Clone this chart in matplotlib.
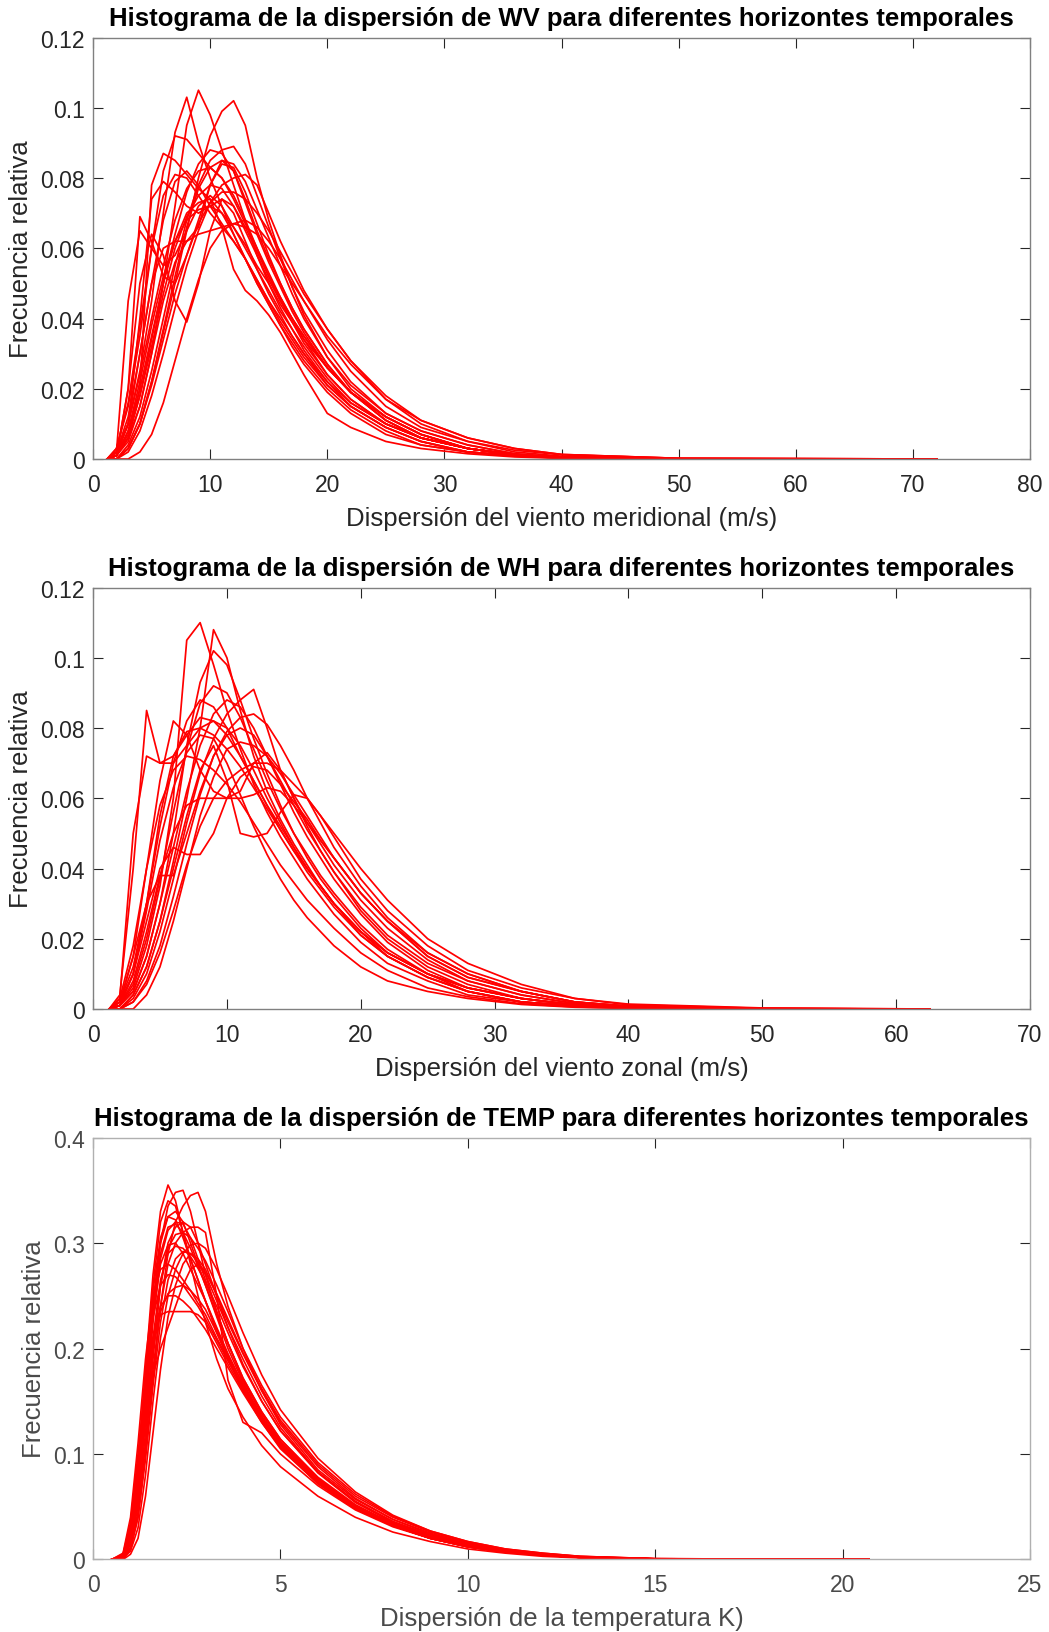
#!/usr/bin/env python

import numpy as np
import matplotlib
matplotlib.use("Agg")
import matplotlib.pyplot as plt
from matplotlib.ticker import FuncFormatter

plt.rcParams['font.family'] = ['Liberation Sans', 'DejaVu Sans']

# ---------------- WV (viento meridional) ----------------
wv_x = [1.2, 2, 3, 4, 5, 6, 7, 8, 9, 10, 11, 12, 13, 14, 15, 16, 17, 18,
        20, 22, 25, 28, 32, 36, 40, 50, 72]
wv_curves = [
    [0, 0.001, 0.006, 0.015, 0.030, 0.050, 0.072, 0.095, 0.105, 0.098, 0.088, 0.078, 0.068, 0.058, 0.050, 0.043, 0.037, 0.031, 0.022, 0.015, 0.009, 0.005, 0.002, 0.001, 0.0004, 0, 0],
    [0, 0.002, 0.010, 0.025, 0.045, 0.070, 0.093, 0.103, 0.090, 0.080, 0.072, 0.064, 0.057, 0.050, 0.044, 0.038, 0.033, 0.028, 0.020, 0.014, 0.008, 0.004, 0.002, 0.001, 0.0003, 0, 0],
    [0, 0, 0.003, 0.010, 0.022, 0.036, 0.050, 0.065, 0.080, 0.092, 0.099, 0.102, 0.095, 0.080, 0.068, 0.058, 0.049, 0.041, 0.029, 0.020, 0.012, 0.007, 0.003, 0.0012, 0.0005, 0, 0],
    [0, 0.003, 0.015, 0.035, 0.060, 0.082, 0.092, 0.091, 0.087, 0.083, 0.080, 0.074, 0.067, 0.060, 0.053, 0.046, 0.040, 0.034, 0.024, 0.017, 0.010, 0.006, 0.003, 0.0012, 0.0004, 0, 0],
    [0, 0.001, 0.006, 0.020, 0.078, 0.087, 0.085, 0.081, 0.077, 0.074, 0.070, 0.064, 0.057, 0.050, 0.044, 0.038, 0.032, 0.027, 0.019, 0.013, 0.007, 0.004, 0.002, 0.0008, 0.0003, 0, 0],
    [0, 0.002, 0.010, 0.040, 0.074, 0.079, 0.076, 0.072, 0.070, 0.072, 0.074, 0.070, 0.062, 0.054, 0.047, 0.041, 0.035, 0.030, 0.021, 0.015, 0.009, 0.005, 0.002, 0.001, 0.0003, 0, 0],
    [0, 0.002, 0.045, 0.065, 0.060, 0.055, 0.058, 0.065, 0.072, 0.075, 0.072, 0.066, 0.060, 0.054, 0.048, 0.042, 0.037, 0.032, 0.023, 0.016, 0.010, 0.006, 0.003, 0.0012, 0.0004, 0, 0],
    [0, 0.001, 0.020, 0.069, 0.062, 0.052, 0.050, 0.058, 0.068, 0.078, 0.084, 0.083, 0.076, 0.067, 0.058, 0.050, 0.043, 0.037, 0.027, 0.019, 0.011, 0.006, 0.003, 0.0012, 0.0004, 0, 0],
    [0, 0.001, 0.020, 0.050, 0.064, 0.058, 0.045, 0.039, 0.050, 0.065, 0.074, 0.072, 0.066, 0.059, 0.052, 0.046, 0.040, 0.035, 0.026, 0.019, 0.012, 0.007, 0.003, 0.0013, 0.0005, 0, 0],
    [0, 0, 0.004, 0.012, 0.025, 0.040, 0.055, 0.068, 0.078, 0.085, 0.088, 0.089, 0.084, 0.075, 0.066, 0.057, 0.049, 0.042, 0.031, 0.022, 0.013, 0.008, 0.004, 0.0015, 0.0005, 0, 0],
    [0, 0.001, 0.008, 0.020, 0.035, 0.050, 0.064, 0.076, 0.084, 0.088, 0.087, 0.082, 0.074, 0.065, 0.057, 0.050, 0.043, 0.037, 0.027, 0.019, 0.011, 0.006, 0.003, 0.0012, 0.0004, 0, 0],
    [0, 0, 0.002, 0.008, 0.018, 0.030, 0.043, 0.055, 0.065, 0.073, 0.078, 0.080, 0.081, 0.078, 0.070, 0.062, 0.055, 0.048, 0.037, 0.028, 0.017, 0.010, 0.005, 0.002, 0.0008, 0.0001, 0],
    [0, 0.001, 0.006, 0.018, 0.034, 0.050, 0.062, 0.070, 0.073, 0.074, 0.066, 0.054, 0.048, 0.045, 0.041, 0.036, 0.030, 0.024, 0.013, 0.009, 0.005, 0.003, 0.0015, 0.0006, 0.0002, 0, 0],
    [0, 0, 0, 0.002, 0.007, 0.016, 0.028, 0.040, 0.051, 0.060, 0.065, 0.067, 0.068, 0.066, 0.062, 0.057, 0.051, 0.045, 0.034, 0.025, 0.015, 0.009, 0.005, 0.0025, 0.0012, 0.0002, 0],
    [0, 0.002, 0.012, 0.030, 0.050, 0.068, 0.079, 0.082, 0.078, 0.072, 0.067, 0.062, 0.057, 0.051, 0.045, 0.039, 0.034, 0.029, 0.021, 0.015, 0.009, 0.005, 0.002, 0.0009, 0.0003, 0, 0],
    [0, 0.001, 0.007, 0.018, 0.032, 0.047, 0.060, 0.069, 0.075, 0.078, 0.077, 0.072, 0.065, 0.058, 0.051, 0.045, 0.040, 0.035, 0.026, 0.019, 0.012, 0.007, 0.003, 0.0012, 0.0004, 0, 0],
    [0, 0.001, 0.008, 0.022, 0.038, 0.052, 0.062, 0.068, 0.071, 0.072, 0.070, 0.066, 0.061, 0.055, 0.050, 0.044, 0.039, 0.034, 0.026, 0.019, 0.012, 0.007, 0.003, 0.0012, 0.0004, 0, 0],
    [0, 0, 0.003, 0.010, 0.022, 0.037, 0.052, 0.066, 0.077, 0.083, 0.085, 0.084, 0.079, 0.071, 0.063, 0.055, 0.047, 0.040, 0.029, 0.021, 0.013, 0.008, 0.004, 0.0015, 0.0005, 0, 0],
    [0, 0.001, 0.010, 0.030, 0.050, 0.060, 0.062, 0.062, 0.066, 0.078, 0.085, 0.082, 0.073, 0.064, 0.056, 0.049, 0.042, 0.036, 0.026, 0.019, 0.011, 0.006, 0.003, 0.0012, 0.0004, 0, 0],
    [0, 0.001, 0.005, 0.015, 0.030, 0.045, 0.056, 0.062, 0.064, 0.065, 0.066, 0.067, 0.066, 0.064, 0.060, 0.055, 0.050, 0.045, 0.035, 0.027, 0.017, 0.011, 0.006, 0.003, 0.0013, 0.0002, 0],
    [0, 0.003, 0.016, 0.038, 0.060, 0.075, 0.081, 0.080, 0.075, 0.070, 0.066, 0.062, 0.057, 0.051, 0.045, 0.040, 0.035, 0.030, 0.022, 0.016, 0.010, 0.006, 0.003, 0.0012, 0.0004, 0, 0],
    [0, 0.002, 0.010, 0.024, 0.040, 0.055, 0.068, 0.077, 0.082, 0.083, 0.080, 0.075, 0.068, 0.060, 0.052, 0.045, 0.039, 0.033, 0.024, 0.017, 0.010, 0.006, 0.003, 0.0011, 0.0004, 0, 0],
    [0, 0, 0.003, 0.010, 0.021, 0.034, 0.047, 0.058, 0.067, 0.073, 0.076, 0.076, 0.074, 0.070, 0.065, 0.059, 0.053, 0.047, 0.037, 0.028, 0.018, 0.011, 0.006, 0.003, 0.0013, 0.0002, 0],
]

# ---------------- WH (viento zonal) ----------------
wh_x = [1.2, 2, 3, 4, 5, 6, 7, 8, 9, 10, 11, 12, 13, 14, 15, 16, 17, 18,
        20, 22, 25, 28, 32, 36, 40, 50, 62.5]
wh_curves = [
    [0, 0.001, 0.006, 0.018, 0.035, 0.060, 0.105, 0.110, 0.098, 0.085, 0.074, 0.064, 0.056, 0.049, 0.043, 0.037, 0.032, 0.027, 0.019, 0.013, 0.008, 0.004, 0.002, 0.0008, 0.0003, 0, 0],
    [0, 0, 0.004, 0.012, 0.025, 0.042, 0.060, 0.080, 0.108, 0.100, 0.085, 0.072, 0.062, 0.054, 0.047, 0.041, 0.035, 0.030, 0.021, 0.015, 0.009, 0.005, 0.002, 0.0009, 0.0003, 0, 0],
    [0, 0.001, 0.005, 0.015, 0.030, 0.050, 0.075, 0.093, 0.102, 0.098, 0.088, 0.077, 0.067, 0.058, 0.050, 0.043, 0.037, 0.032, 0.023, 0.016, 0.010, 0.005, 0.002, 0.001, 0.0003, 0, 0],
    [0, 0.001, 0.007, 0.020, 0.037, 0.056, 0.074, 0.087, 0.092, 0.090, 0.083, 0.074, 0.065, 0.057, 0.050, 0.044, 0.038, 0.033, 0.024, 0.017, 0.010, 0.006, 0.003, 0.0011, 0.0004, 0, 0],
    [0, 0, 0.003, 0.010, 0.022, 0.037, 0.053, 0.067, 0.077, 0.084, 0.088, 0.091, 0.080, 0.068, 0.060, 0.053, 0.047, 0.041, 0.031, 0.023, 0.014, 0.008, 0.004, 0.0016, 0.0006, 0, 0],
    [0, 0.004, 0.040, 0.085, 0.070, 0.070, 0.075, 0.080, 0.082, 0.080, 0.075, 0.068, 0.060, 0.053, 0.046, 0.040, 0.035, 0.030, 0.022, 0.015, 0.009, 0.005, 0.002, 0.0009, 0.0003, 0, 0],
    [0, 0.003, 0.050, 0.072, 0.070, 0.072, 0.078, 0.083, 0.082, 0.078, 0.072, 0.065, 0.058, 0.051, 0.045, 0.039, 0.034, 0.029, 0.021, 0.015, 0.009, 0.005, 0.002, 0.0009, 0.0003, 0, 0],
    [0, 0.002, 0.012, 0.030, 0.052, 0.070, 0.082, 0.088, 0.086, 0.080, 0.072, 0.065, 0.058, 0.052, 0.046, 0.040, 0.035, 0.030, 0.022, 0.016, 0.010, 0.006, 0.003, 0.0011, 0.0004, 0, 0],
    [0, 0.002, 0.015, 0.040, 0.065, 0.082, 0.078, 0.068, 0.062, 0.060, 0.062, 0.070, 0.073, 0.068, 0.060, 0.052, 0.045, 0.039, 0.028, 0.020, 0.012, 0.007, 0.003, 0.0012, 0.0004, 0, 0],
    [0, 0.002, 0.015, 0.030, 0.038, 0.038, 0.050, 0.062, 0.072, 0.078, 0.080, 0.078, 0.072, 0.065, 0.058, 0.051, 0.045, 0.039, 0.029, 0.021, 0.013, 0.008, 0.004, 0.0015, 0.0005, 0, 0],
    [0, 0.001, 0.010, 0.025, 0.040, 0.046, 0.044, 0.044, 0.050, 0.060, 0.066, 0.069, 0.068, 0.064, 0.059, 0.054, 0.048, 0.043, 0.033, 0.025, 0.015, 0.009, 0.005, 0.002, 0.0008, 0.0001, 0],
    [0, 0, 0.004, 0.012, 0.025, 0.040, 0.055, 0.068, 0.075, 0.065, 0.050, 0.049, 0.050, 0.056, 0.061, 0.060, 0.055, 0.049, 0.037, 0.028, 0.018, 0.011, 0.006, 0.003, 0.0012, 0.0002, 0],
    [0, 0.001, 0.008, 0.022, 0.038, 0.050, 0.058, 0.060, 0.060, 0.060, 0.060, 0.061, 0.063, 0.062, 0.058, 0.053, 0.048, 0.043, 0.033, 0.025, 0.015, 0.009, 0.005, 0.002, 0.0008, 0.0001, 0],
    [0, 0, 0.002, 0.008, 0.018, 0.032, 0.047, 0.061, 0.072, 0.079, 0.083, 0.084, 0.081, 0.075, 0.068, 0.060, 0.053, 0.046, 0.035, 0.026, 0.016, 0.010, 0.005, 0.002, 0.0008, 0.0001, 0],
    [0, 0.001, 0.005, 0.015, 0.030, 0.046, 0.062, 0.075, 0.084, 0.088, 0.086, 0.080, 0.072, 0.064, 0.056, 0.049, 0.043, 0.037, 0.027, 0.019, 0.011, 0.006, 0.003, 0.0012, 0.0004, 0, 0],
    [0, 0.002, 0.010, 0.028, 0.048, 0.063, 0.073, 0.078, 0.077, 0.070, 0.061, 0.052, 0.044, 0.037, 0.031, 0.026, 0.022, 0.018, 0.012, 0.008, 0.005, 0.003, 0.0013, 0.0005, 0.0002, 0, 0],
    [0, 0.003, 0.018, 0.040, 0.058, 0.068, 0.072, 0.071, 0.068, 0.064, 0.059, 0.053, 0.047, 0.041, 0.036, 0.031, 0.027, 0.023, 0.016, 0.011, 0.006, 0.0035, 0.0015, 0.0006, 0.0002, 0, 0],
    [0, 0, 0, 0.004, 0.012, 0.025, 0.040, 0.055, 0.066, 0.074, 0.076, 0.075, 0.072, 0.067, 0.061, 0.055, 0.049, 0.043, 0.033, 0.025, 0.016, 0.010, 0.005, 0.002, 0.0008, 0.0001, 0],
    [0, 0.001, 0.010, 0.030, 0.055, 0.072, 0.079, 0.080, 0.078, 0.074, 0.069, 0.063, 0.057, 0.051, 0.045, 0.040, 0.035, 0.030, 0.022, 0.016, 0.010, 0.006, 0.003, 0.0011, 0.0004, 0, 0],
    [0, 0, 0.002, 0.007, 0.016, 0.028, 0.041, 0.052, 0.060, 0.065, 0.068, 0.070, 0.070, 0.068, 0.064, 0.060, 0.055, 0.050, 0.040, 0.031, 0.020, 0.013, 0.007, 0.003, 0.0014, 0.0003, 0],
]

# ---------------- TEMP ----------------
temp_x = [0.5, 0.8, 1.0, 1.2, 1.4, 1.6, 1.8, 2.0, 2.2, 2.4, 2.6, 2.8, 3.0, 3.3,
          3.6, 4.0, 4.5, 5.0, 6.0, 7.0, 8.0, 9.0, 10.0, 11.0, 12.0, 13.0, 15.0, 20.7]
temp_curves = [
    [0, 0.005, 0.030, 0.090, 0.180, 0.270, 0.330, 0.355, 0.340, 0.310, 0.285, 0.265, 0.245, 0.215, 0.190, 0.160, 0.130, 0.105, 0.072, 0.048, 0.032, 0.020, 0.012, 0.007, 0.004, 0.002, 0.0005, 0],
    [0, 0.003, 0.020, 0.070, 0.150, 0.240, 0.300, 0.335, 0.348, 0.350, 0.330, 0.300, 0.270, 0.235, 0.205, 0.170, 0.138, 0.112, 0.076, 0.051, 0.034, 0.022, 0.013, 0.008, 0.004, 0.002, 0.0005, 0],
    [0, 0.001, 0.010, 0.040, 0.100, 0.170, 0.240, 0.290, 0.320, 0.335, 0.345, 0.348, 0.330, 0.280, 0.240, 0.200, 0.160, 0.128, 0.085, 0.057, 0.038, 0.024, 0.015, 0.009, 0.005, 0.0025, 0.0006, 0],
    [0, 0.004, 0.025, 0.080, 0.160, 0.245, 0.300, 0.325, 0.330, 0.320, 0.300, 0.280, 0.260, 0.230, 0.200, 0.168, 0.135, 0.110, 0.075, 0.050, 0.033, 0.021, 0.013, 0.008, 0.004, 0.002, 0.0005, 0],
    [0, 0.002, 0.015, 0.050, 0.110, 0.180, 0.240, 0.280, 0.300, 0.310, 0.315, 0.315, 0.310, 0.250, 0.170, 0.130, 0.120, 0.100, 0.070, 0.047, 0.031, 0.020, 0.012, 0.007, 0.004, 0.002, 0.0005, 0],
    [0, 0.004, 0.030, 0.090, 0.160, 0.210, 0.232, 0.235, 0.235, 0.235, 0.235, 0.232, 0.225, 0.205, 0.185, 0.160, 0.132, 0.108, 0.074, 0.050, 0.033, 0.021, 0.013, 0.008, 0.004, 0.002, 0.0005, 0],
    [0, 0.002, 0.020, 0.070, 0.130, 0.175, 0.200, 0.220, 0.240, 0.260, 0.275, 0.280, 0.270, 0.245, 0.220, 0.190, 0.155, 0.125, 0.083, 0.055, 0.036, 0.023, 0.014, 0.008, 0.0045, 0.0022, 0.0006, 0],
    [0, 0.003, 0.020, 0.070, 0.150, 0.230, 0.280, 0.298, 0.300, 0.290, 0.275, 0.260, 0.245, 0.220, 0.195, 0.165, 0.135, 0.110, 0.075, 0.050, 0.033, 0.021, 0.013, 0.008, 0.004, 0.002, 0.0005, 0],
    [0, 0.005, 0.035, 0.100, 0.170, 0.230, 0.260, 0.270, 0.268, 0.260, 0.250, 0.240, 0.228, 0.208, 0.188, 0.163, 0.134, 0.110, 0.075, 0.050, 0.033, 0.021, 0.013, 0.008, 0.004, 0.002, 0.0005, 0],
    [0, 0.002, 0.012, 0.045, 0.110, 0.190, 0.260, 0.300, 0.315, 0.320, 0.315, 0.300, 0.280, 0.250, 0.220, 0.185, 0.150, 0.122, 0.082, 0.054, 0.035, 0.022, 0.014, 0.008, 0.0045, 0.0022, 0.0006, 0],
    [0, 0, 0.005, 0.020, 0.060, 0.120, 0.180, 0.230, 0.260, 0.280, 0.290, 0.285, 0.275, 0.250, 0.225, 0.195, 0.160, 0.130, 0.088, 0.058, 0.038, 0.025, 0.015, 0.009, 0.005, 0.0025, 0.0007, 0],
    [0, 0.002, 0.015, 0.055, 0.120, 0.200, 0.260, 0.295, 0.308, 0.310, 0.305, 0.295, 0.283, 0.260, 0.235, 0.200, 0.165, 0.135, 0.092, 0.062, 0.041, 0.027, 0.017, 0.010, 0.006, 0.003, 0.0008, 0],
    [0, 0.004, 0.030, 0.090, 0.160, 0.210, 0.240, 0.250, 0.250, 0.245, 0.238, 0.228, 0.218, 0.200, 0.182, 0.158, 0.130, 0.106, 0.072, 0.048, 0.032, 0.020, 0.012, 0.007, 0.004, 0.002, 0.0005, 0],
    [0, 0.004, 0.025, 0.085, 0.170, 0.260, 0.320, 0.340, 0.335, 0.310, 0.280, 0.250, 0.225, 0.190, 0.162, 0.135, 0.108, 0.088, 0.060, 0.040, 0.026, 0.017, 0.010, 0.006, 0.003, 0.0015, 0.0004, 0],
    [0, 0.001, 0.008, 0.030, 0.080, 0.150, 0.210, 0.250, 0.275, 0.290, 0.298, 0.300, 0.295, 0.275, 0.250, 0.215, 0.175, 0.142, 0.096, 0.064, 0.042, 0.027, 0.017, 0.010, 0.006, 0.003, 0.0008, 0],
    [0, 0.006, 0.040, 0.110, 0.190, 0.250, 0.275, 0.280, 0.275, 0.265, 0.255, 0.243, 0.232, 0.210, 0.190, 0.163, 0.133, 0.108, 0.073, 0.049, 0.032, 0.020, 0.012, 0.007, 0.004, 0.002, 0.0005, 0],
    [0, 0.003, 0.020, 0.065, 0.140, 0.225, 0.285, 0.312, 0.320, 0.318, 0.305, 0.285, 0.265, 0.235, 0.205, 0.172, 0.140, 0.114, 0.078, 0.052, 0.034, 0.022, 0.013, 0.008, 0.0045, 0.0022, 0.0005, 0],
    [0, 0.003, 0.022, 0.070, 0.140, 0.200, 0.235, 0.252, 0.258, 0.260, 0.255, 0.247, 0.237, 0.215, 0.194, 0.166, 0.136, 0.110, 0.075, 0.050, 0.033, 0.021, 0.013, 0.008, 0.004, 0.002, 0.0005, 0],
    [0, 0.003, 0.020, 0.070, 0.150, 0.235, 0.290, 0.315, 0.318, 0.310, 0.295, 0.278, 0.260, 0.232, 0.205, 0.172, 0.140, 0.114, 0.077, 0.051, 0.034, 0.022, 0.013, 0.008, 0.0045, 0.002, 0.0005, 0],
    [0, 0.002, 0.016, 0.060, 0.130, 0.210, 0.265, 0.290, 0.297, 0.295, 0.287, 0.276, 0.263, 0.240, 0.215, 0.183, 0.150, 0.122, 0.083, 0.055, 0.036, 0.023, 0.014, 0.0085, 0.0048, 0.0024, 0.0006, 0],
    [0, 0.004, 0.028, 0.090, 0.175, 0.255, 0.305, 0.325, 0.322, 0.305, 0.285, 0.265, 0.245, 0.218, 0.192, 0.162, 0.132, 0.107, 0.072, 0.048, 0.032, 0.020, 0.012, 0.007, 0.004, 0.002, 0.0005, 0],
    [0, 0.001, 0.010, 0.040, 0.095, 0.165, 0.225, 0.265, 0.285, 0.292, 0.290, 0.282, 0.272, 0.252, 0.228, 0.196, 0.162, 0.132, 0.090, 0.060, 0.040, 0.026, 0.016, 0.0095, 0.0055, 0.0028, 0.0007, 0],
]

panels = [
    dict(x=wv_x, curves=wv_curves, xlim=(0, 80), xticks=np.arange(0, 81, 10),
         ylim=(0, 0.12), yticks=np.arange(0, 0.121, 0.02),
         title="Histograma de la dispersión de WV para diferentes horizontes temporales",
         xlabel="Dispersión del viento meridional (m/s)",
         rect=[0.0887, 0.7183, 0.8932, 0.2581], text="#262626", frame="#808080", lw=1.25),
    dict(x=wh_x, curves=wh_curves, xlim=(0, 70), xticks=np.arange(0, 71, 10),
         ylim=(0, 0.12), yticks=np.arange(0, 0.121, 0.02),
         title="Histograma de la dispersión de WH para diferentes horizontes temporales",
         xlabel="Dispersión del viento zonal (m/s)",
         rect=[0.0887, 0.3815, 0.8932, 0.2581], text="#262626", frame="#808080", lw=1.25),
    dict(x=temp_x, curves=temp_curves, xlim=(0, 25), xticks=np.arange(0, 26, 5),
         ylim=(0, 0.4), yticks=np.arange(0, 0.41, 0.1),
         title="Histograma de la dispersión de TEMP para diferentes horizontes temporales",
         xlabel="Dispersión de la temperatura K)",
         rect=[0.0887, 0.0444, 0.8932, 0.2584], text="#4a4a4a", frame="#b0b0b0", lw=1.2),
]

fig = plt.figure(figsize=(10.49, 16.33), dpi=100)

for p in panels:
    ax = fig.add_axes(p["rect"])
    for ys in p["curves"]:
        ax.plot(p["x"], ys, c="#ff0000", lw=p["lw"], solid_joinstyle="round")
    ax.set_xlim(*p["xlim"])
    ax.set_ylim(*p["ylim"])
    ax.set_xticks(p["xticks"])
    ax.set_yticks(p["yticks"])
    fmt = FuncFormatter(lambda v, pos: "%g" % round(v, 4))
    ax.xaxis.set_major_formatter(fmt)
    ax.yaxis.set_major_formatter(fmt)
    ax.tick_params(direction="in", length=7, width=0.8, top=True, right=True,
                   labelsize=16.5, colors="#262626", labelcolor=p["text"])
    ax.tick_params(axis="x", pad=10)
    ax.tick_params(axis="y", pad=6)
    for s in ax.spines.values():
        s.set_color(p["frame"])
        s.set_linewidth(1.0)
    ax.set_title(p["title"], fontsize=18.5, fontweight="bold", color="#000000", pad=9)
    ax.set_xlabel(p["xlabel"], fontsize=18.5, color=p["text"], labelpad=7)
    ax.set_ylabel("Frecuencia relativa", fontsize=18.5, color=p["text"], labelpad=5)

plt.savefig("out.png", dpi=100)
